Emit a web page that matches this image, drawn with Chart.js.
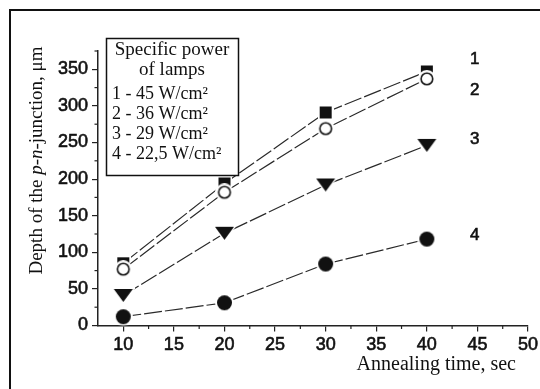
<!DOCTYPE html>
<html><head><meta charset="utf-8">
<script src="https://cdn.jsdelivr.net/npm/chart.js@4"></script>
<style>html,body{margin:0;padding:0;background:#fff;}canvas{display:block;}</style>
</head><body>
<canvas id="c" width="540" height="389"></canvas>
<script>
// ---- data ----
const annealingTimes = [10, 20, 30, 40];
const depth45 = [85, 194, 291, 347];
const depth36 = [77, 182, 269, 337];
const depth29 = [41, 126, 192, 246];
const depth225 = [12, 31, 84, 118];
const seriesTags = ['1', '2', '3', '4'];
const legendTitle = ['Specific power', 'of lamps'];
const legendLines = ['1 - 45 W/cm²', '2 - 36 W/cm²', '3 - 29 W/cm²', '4 - 22,5 W/cm²'];
const xTitle = 'Annealing time, sec';
const yTitleParts = [['Depth of the ', false], ['p', true], ['-', false], ['n', true], ['-junction, μm', false]];

// ---- marker images ----
function marker(w, h, draw) {
  const c = document.createElement('canvas'); c.width = w; c.height = h;
  draw(c.getContext('2d'), w, h); return c;
}
const INK = '#111';
const mSquare = marker(16, 16, g => { g.fillStyle = '#fff'; g.fillRect(0, 0, 16, 16); g.fillStyle = INK; g.fillRect(2, 2, 12, 12); });
const mOpen = marker(18, 18, g => {
  g.fillStyle = '#fff'; g.beginPath(); g.arc(9, 9, 9, 0, 7); g.fill();
  g.beginPath(); g.arc(9, 9, 5.8, 0, 7); g.fill(); g.lineWidth = 1.6; g.strokeStyle = INK; g.stroke();
});
const mDot = marker(19, 19, g => {
  g.fillStyle = '#fff'; g.beginPath(); g.arc(9.5, 9.5, 9.5, 0, 7); g.fill();
  g.fillStyle = INK; g.beginPath(); g.arc(9.5, 9.5, 7.5, 0, 7); g.fill();
});
const mTri = marker(23, 17, g => {
  g.fillStyle = '#fff'; g.beginPath(); g.moveTo(-1, 0); g.lineTo(24, 0); g.lineTo(11.5, 17.5); g.closePath(); g.fill();
  g.fillStyle = INK; g.beginPath(); g.moveTo(2, 2); g.lineTo(21, 2); g.lineTo(11.5, 15); g.closePath(); g.fill();
});

function ds(label, vals, style, order) {
  return {
    label, order,
    data: annealingTimes.map((x, i) => ({ x, y: vals[i] })),
    pointStyle: style, pointRadius: 5, pointHoverRadius: 5,
    borderColor: '#2a2a2a', borderWidth: 1.2, borderDash: [18, 3],
    fill: false, tension: 0
  };
}

const SANS = '"Liberation Sans", Arial, sans-serif';
const SERIF = '"Liberation Serif", "Times New Roman", serif';

function noPad(s) { s.paddingLeft = 0; s.paddingRight = 0; s.paddingTop = 0; s.paddingBottom = 0; }

const decor = {
  id: 'decor',
  beforeDraw(chart) {
    const g = chart.ctx;
    g.save();
    g.fillStyle = '#fff'; g.fillRect(0, 0, chart.width, chart.height);
    g.strokeStyle = INK; g.lineWidth = 2;
    g.beginPath(); g.moveTo(10, 389); g.lineTo(10, 10); g.lineTo(540, 10); g.stroke();
    g.restore();
  },
  afterDraw(chart) {
    const g = chart.ctx, xs = chart.scales.x, ys = chart.scales.y;
    g.save();
    // minor ticks
    g.strokeStyle = '#222'; g.lineWidth = 1.2;
    xs.ticks.forEach(t => {
      if (t.value % 5 !== 0 && t.value > xs.min) {
        const px = xs.getPixelForValue(t.value);
        g.beginPath(); g.moveTo(px, xs.top); g.lineTo(px, xs.top + 3.5); g.stroke();
      }
    });
    ys.ticks.forEach(t => {
      if (t.value % 50 !== 0) {
        const py = ys.getPixelForValue(t.value);
        g.beginPath(); g.moveTo(ys.right, py); g.lineTo(ys.right - 3.5, py); g.stroke();
      }
    });
    // series tags
    g.fillStyle = INK; g.strokeStyle = INK; g.lineWidth = 0.6;
    g.font = '17px ' + SANS; g.textAlign = 'center'; g.textBaseline = 'middle';
    const tagDy = [-12, 11, -6, -4];
    chart.data.datasets.forEach((d, i) => {
      const last = d.data[d.data.length - 1];
      const tx = xs.getPixelForValue(last.x) + 48, ty = ys.getPixelForValue(last.y) + tagDy[i];
      g.fillText(seriesTags[i], tx, ty); g.strokeText(seriesTags[i], tx, ty);
    });
    // legend box
    g.fillStyle = '#fff'; g.fillRect(106, 38, 132, 137);
    g.strokeStyle = INK; g.lineWidth = 1.5; g.strokeRect(106.5, 38.5, 132, 137);
    g.fillStyle = INK; g.font = '19px ' + SERIF; g.textBaseline = 'middle';
    g.textAlign = 'center';
    g.fillText(legendTitle[0], 172, 50);
    g.fillText(legendTitle[1], 172, 70);
    g.textAlign = 'left'; g.font = '18px ' + SERIF;
    const ly = [94, 114, 134, 154];
    legendLines.forEach((s, i) => g.fillText(s, 112, ly[i]));
    // x title
    g.font = '20px ' + SERIF; g.textAlign = 'right';
    g.fillText(xTitle, 516, 365);
    // y title (rotated, mixed italic)
    g.translate(37, 160.5); g.rotate(-Math.PI / 2);
    const fN = '19px ' + SERIF, fI = 'italic 19px ' + SERIF;
    let total = 0;
    yTitleParts.forEach(([s, it]) => { g.font = it ? fI : fN; total += g.measureText(s).width; });
    let x = -total / 2; g.textAlign = 'left';
    yTitleParts.forEach(([s, it]) => { g.font = it ? fI : fN; g.fillText(s, x, 0); x += g.measureText(s).width; });
    g.restore();
  }
};

new Chart(document.getElementById('c'), {
  type: 'line',
  data: {
    datasets: [
      ds('45 W/cm²', depth45, mSquare, 1),
      ds('36 W/cm²', depth36, mOpen, 0),
      ds('29 W/cm²', depth29, mTri, 2),
      ds('22,5 W/cm²', depth225, mDot, 3)
    ]
  },
  options: {
    responsive: false, animation: false, devicePixelRatio: 1,
    layout: { padding: { top: 51, right: 12, bottom: 0, left: 0 } },
    plugins: { legend: { display: false }, tooltip: { enabled: false } },
    scales: {
      x: {
        type: 'linear', min: 7.5, max: 50,
        afterFit(s) { s.height = 63.5; noPad(s); },
        ticks: { stepSize: 2.5, autoSkip: false, maxRotation: 0, padding: 3, color: INK,
          textStrokeColor: INK, textStrokeWidth: 0.6,
          font: { family: SANS, size: 18 }, callback: v => (v % 5 === 0 ? String(v) : '') },
        grid: { drawOnChartArea: false, tickLength: 6, lineWidth: 1.2,
          color: c => (c.tick && c.tick.value % 5 === 0 ? '#222' : 'rgba(0,0,0,0)') },
        border: { display: true, color: '#222', width: 1.5 }
      },
      y: {
        type: 'linear', min: 0, max: 375,
        afterFit(s) { s.width = 98; noPad(s); },
        ticks: { stepSize: 25, autoSkip: false, padding: 4, color: INK,
          textStrokeColor: INK, textStrokeWidth: 0.6,
          font: { family: SANS, size: 18 }, callback: v => (v % 50 === 0 ? String(v) : '') },
        grid: { drawOnChartArea: false, tickLength: 6, lineWidth: 1.2,
          color: c => (c.tick && c.tick.value % 50 === 0 ? '#222' : 'rgba(0,0,0,0)') },
        border: { display: true, color: '#222', width: 1.5 }
      }
    }
  },
  plugins: [decor]
});
</script>
</body></html>
